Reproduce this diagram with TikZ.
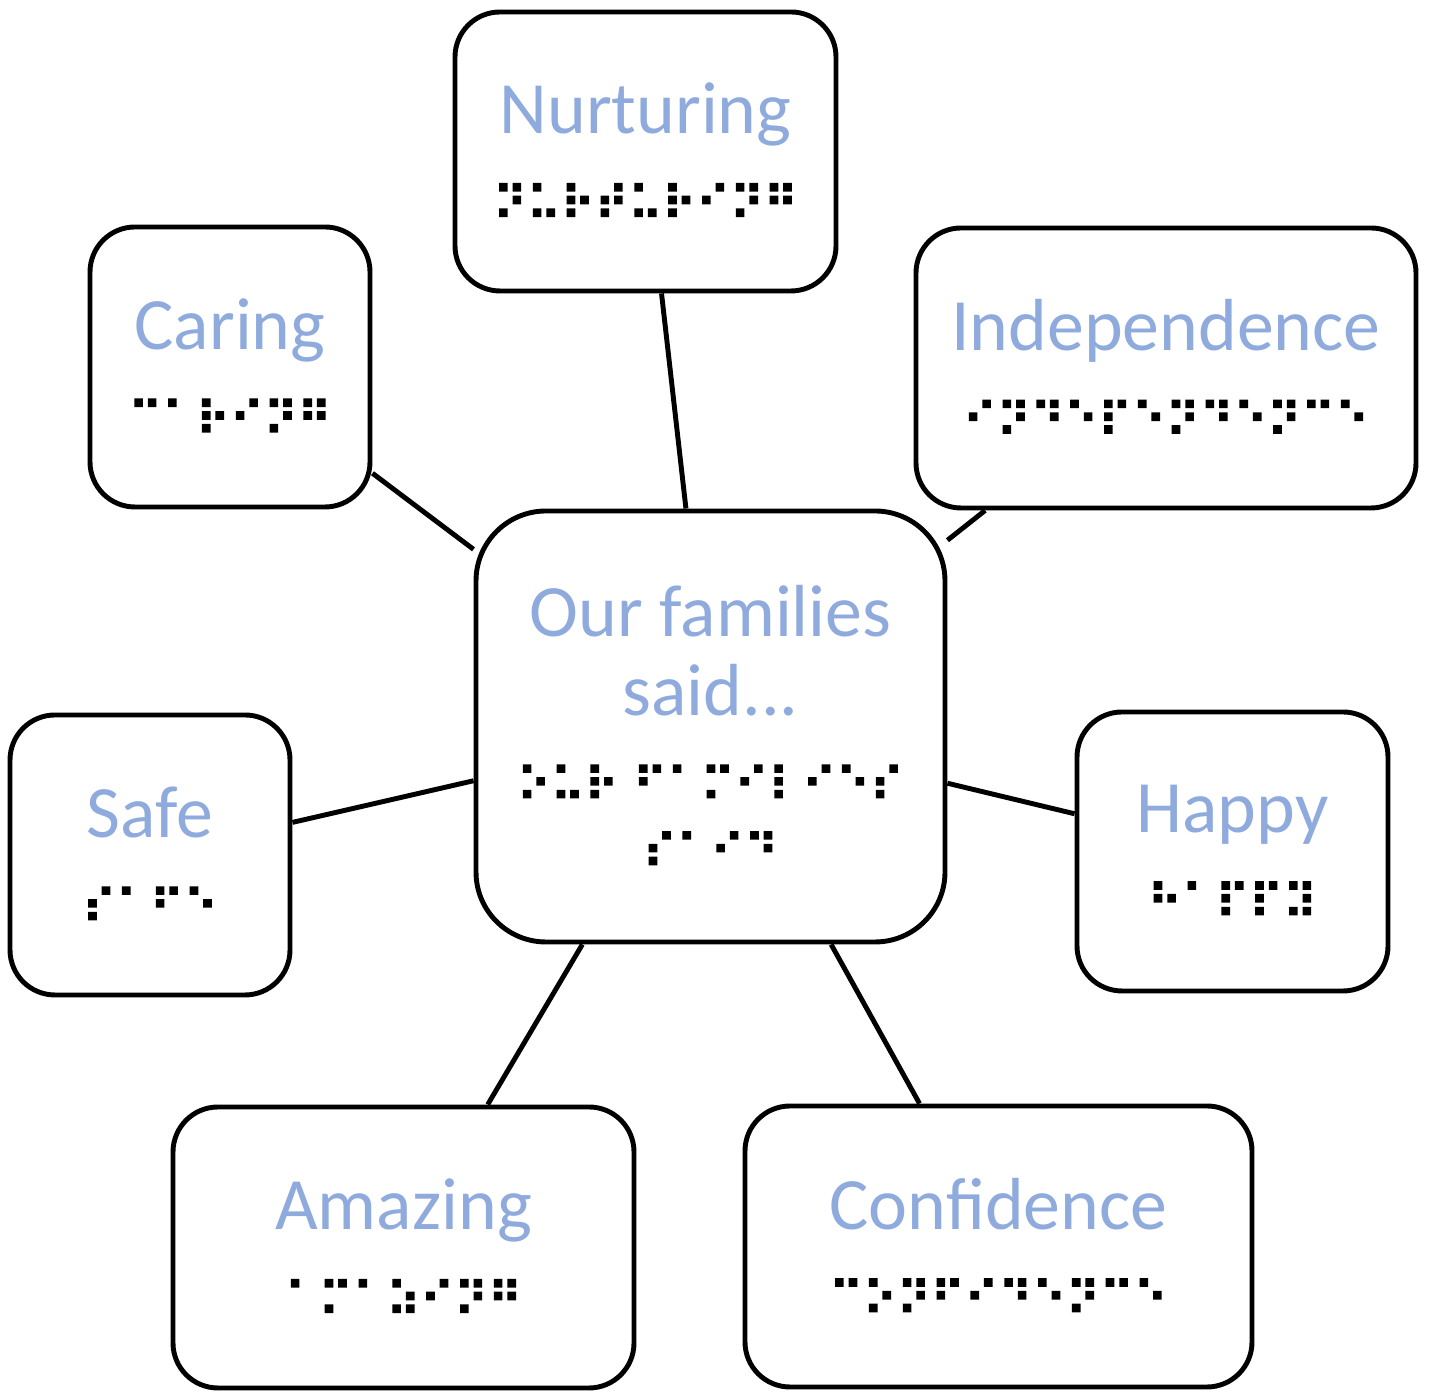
\documentclass[tikz,border=0pt]{standalone}
\usepackage{fontspec}
\setmainfont{Carlito}
\newfontfamily\braillefont[FakeBold=4]{DejaVu Sans}
\definecolor{wordblue}{HTML}{8FAADC}
\newcommand{\brailletext}[1]{{\fontsize{26.3}{46}\braillefont #1}}
\begin{document}
\begin{tikzpicture}[
    line width=2.8pt,
    card/.style={draw,rounded corners=0.9cm,inner sep=0pt,align=center,
      font=\fontsize{42}{46}\selectfont},
  ]
  \useasboundingbox (0,0) rectangle (28.58,27.84);

  % centre
  \node[card,minimum width=9.38cm,minimum height=8.62cm,rounded corners=1.4cm] (families) at (14.21,13.31)
    {\textcolor{wordblue}{Our families}\\[-1pt]\textcolor{wordblue}{said...}\\[3pt]\brailletext{⠕⠥⠗ ⠋⠁⠍⠊⠇⠊⠑⠎}\\[-8pt]\brailletext{⠎⠁⠊⠙}};

  % words round it
  \node[card,minimum width=7.62cm,minimum height=5.58cm] (nurturing) at (12.91,24.81)
    {\textcolor{wordblue}{Nurturing}\\[3pt]\brailletext{⠝⠥⠗⠞⠥⠗⠊⠝⠛}};
  \node[card,minimum width=5.6cm,minimum height=5.6cm] (caring) at (4.60,20.50)
    {\textcolor{wordblue}{Caring}\\[3pt]\brailletext{⠉⠁⠗⠊⠝⠛}};
  \node[card,minimum width=10cm,minimum height=5.6cm] (independence) at (23.32,20.48)
    {\textcolor{wordblue}{Independence}\\[3pt]\brailletext{⠊⠝⠙⠑⠏⠑⠝⠙⠑⠝⠉⠑}};
  \node[card,minimum width=5.6cm,minimum height=5.6cm] (safe) at (3.00,10.74)
    {\textcolor{wordblue}{Safe}\\[3pt]\brailletext{⠎⠁⠋⠑}};
  \node[card,minimum width=6.22cm,minimum height=5.58cm] (happy) at (24.65,10.81)
    {\textcolor{wordblue}{Happy}\\[3pt]\brailletext{⠓⠁⠏⠏⠽}};
  \node[card,minimum width=9.22cm,minimum height=5.62cm] (amazing) at (8.07,2.89)
    {\textcolor{wordblue}{Amazing}\\[3pt]\brailletext{⠁⠍⠁⠵⠊⠝⠛}};
  \node[card,minimum width=10.14cm,minimum height=5.62cm] (confidence) at (19.97,2.91)
    {\textcolor{wordblue}{Confidence}\\[3pt]\brailletext{⠉⠕⠝⠋⠊⠙⠑⠝⠉⠑}};

  % spokes
  \foreach \w in {nurturing,caring,independence,safe,happy,amazing,confidence}
    \draw (families) -- (\w);
\end{tikzpicture}
\end{document}
